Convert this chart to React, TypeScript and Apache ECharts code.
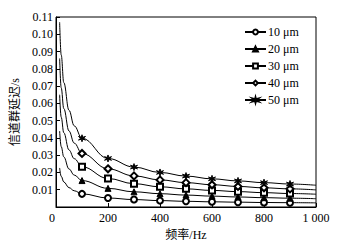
import React, { useEffect, useRef } from "react";
import * as echarts from "echarts";

const freqs = [14, 20, 30, 50, 70, 100, 200, 300, 400, 500, 600, 700, 800, 900, 1000];
const markerFreqs = [100, 200, 300, 400, 500, 600, 700, 800, 900];
const seriesNames = ["10 μm", "20 μm", "30 μm", "40 μm", "50 μm"];
const delay10 = [0.0226, 0.0178, 0.0145, 0.0112, 0.0094, 0.0076, 0.0052, 0.0043, 0.0037, 0.0033, 0.003, 0.0028, 0.0026, 0.0025, 0.0024];
const delay20 = [0.044, 0.035, 0.029, 0.022, 0.0185, 0.0153, 0.0108, 0.0088, 0.0077, 0.0069, 0.0063, 0.0058, 0.0054, 0.0051, 0.0048];
const delay30 = [0.065, 0.052, 0.043, 0.033, 0.028, 0.0233, 0.0165, 0.0135, 0.0117, 0.0105, 0.0096, 0.0089, 0.0083, 0.0078, 0.0074];
const delay40 = [0.086, 0.069, 0.057, 0.044, 0.037, 0.031, 0.0221, 0.018, 0.0157, 0.0141, 0.0129, 0.0119, 0.0111, 0.0105, 0.0099];
const delay50 = [0.107, 0.088, 0.072, 0.056, 0.047, 0.0398, 0.0281, 0.0231, 0.02, 0.0179, 0.0163, 0.0151, 0.0141, 0.0133, 0.0126];
const yTickLabels = ["0.01", "0.02", "0.03", "0.04", "0.05", "0.06", "0.07", "0.08", "0.09", "0.10", "0.11"];
const xTickLabels: Record<number, string> = { 0: "0", 200: "200", 400: "400", 600: "600", 800: "800", 1000: "1 000" };

function starPath(n: number, ro: number, ri: number) {
  let d = "";
  for (let i = 0; i < 2 * n; i++) {
    const r = i % 2 ? ri : ro;
    const a = (Math.PI * i) / n - Math.PI / 2;
    d += (i ? "L" : "M") + (10 + r * Math.cos(a)).toFixed(2) + " " + (10 + r * Math.sin(a)).toFixed(2);
  }
  return "path://" + d + "Z";
}

const FONT = '"Liberation Serif", "Noto Sans CJK SC", serif';

export default function App() {
  const ref = useRef<HTMLDivElement>(null);
  useEffect(() => {
    document.body.style.margin = "0";
    const chart = echarts.init(ref.current!, null, { renderer: "svg" });
    const allValues = [delay10, delay20, delay30, delay40, delay50];
    const symbols = ["emptyCircle", "triangle", "emptyRect", "emptyDiamond", starPath(6, 10, 3.2)];
    const sizes = [6, 6, 6, 7, 7];
    const series = allValues.map((vals, si) => ({
      name: seriesNames[si],
      type: "line",
      smooth: 0.4,
      smoothMonotone: "x",
      symbol: symbols[si],
      symbolSize: sizes[si],
      showAllSymbol: true,
      lineStyle: { color: "#000", width: 1 },
      itemStyle: { color: "#000", borderColor: "#000", borderWidth: 1 },
      data: freqs.map((f, i) =>
        markerFreqs.includes(f) ? { value: [f, vals[i]] } : { value: [f, vals[i]], symbol: "none" }
      ),
    }));
    chart.setOption({
      animation: false,
      backgroundColor: "#fff",
      textStyle: { fontFamily: FONT, color: "#000" },
      grid: { left: 56, right: 23, top: 17, bottom: 39, show: true, borderColor: "#000", borderWidth: 1 },
      legend: {
        orient: "vertical",
        left: 244,
        top: 26,
        padding: 0,
        itemWidth: 21,
        itemHeight: 6,
        itemGap: 5,
        textStyle: { fontFamily: FONT, fontSize: 12, color: "#000", lineHeight: 12, padding: [0, 0, 0, -3] },
        data: seriesNames,
      },
      xAxis: {
        type: "value",
        min: 0,
        max: 1000,
        interval: 200,
        name: "频率/Hz",
        nameLocation: "middle",
        nameGap: 22,
        nameTextStyle: { fontFamily: FONT, fontSize: 12, color: "#000" },
        axisLine: { lineStyle: { color: "#000", width: 1 } },
        axisTick: { inside: true, length: 4, lineStyle: { color: "#000" } },
        splitLine: { show: false },
        axisLabel: {
          color: "#000",
          fontSize: 12,
          fontFamily: FONT,
          margin: 5,
          formatter: (v: number) => (v === 0 ? "{z|0}" : xTickLabels[v] ?? ""),
          rich: { z: { padding: [0, 8, 0, 0], fontFamily: FONT, fontSize: 12 } },
        },
      },
      yAxis: {
        type: "value",
        min: 0,
        max: 0.11,
        interval: 0.01,
        name: "信道群延迟/s",
        nameLocation: "middle",
        nameGap: 31,
        nameTextStyle: { fontFamily: FONT, fontSize: 12, color: "#000" },
        axisLine: { show: true, lineStyle: { color: "#000", width: 1 } },
        axisTick: { show: true, inside: true, length: 4, lineStyle: { color: "#000" } },
        splitLine: { show: false },
        axisLabel: {
          color: "#000",
          fontSize: 12,
          fontFamily: FONT,
          margin: 3,
          formatter: (v: number) => {
            const idx = Math.round(v * 100) - 1;
            return idx >= 0 ? yTickLabels[idx] ?? "" : "";
          },
        },
      },
      series,
    });
    return () => chart.dispose();
  }, []);
  return <div ref={ref} style={{ width: 339, height: 246 }} />;
}
